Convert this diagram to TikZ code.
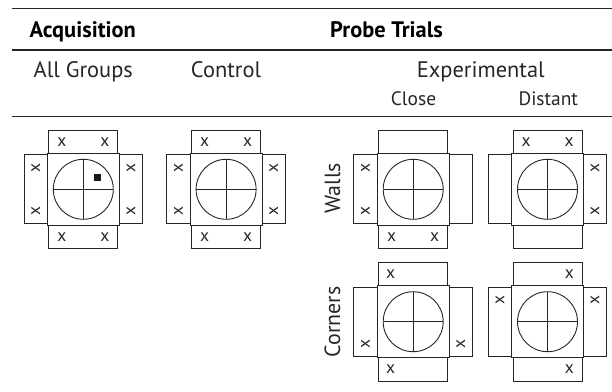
\documentclass[tikz,border=0pt]{standalone}
\usepackage{fontspec}
\setmainfont{PT Sans}
\begin{document}
\begin{tikzpicture}[x=1bp,y=-1bp,
  mline/.style={draw=black!85,line width=0.9bp},
  rule/.style={draw=black!85,line width=1.4bp},
  hd/.style={font=\fontsize{22.5}{26}\selectfont\bfseries,anchor=base,inner sep=0},
  sub/.style={font=\fontsize{22.5}{26}\selectfont,anchor=base,inner sep=0,text=black!85},
  subs/.style={font=\fontsize{19.5}{23}\selectfont,anchor=base,inner sep=0,text=black!85},
  xm/.style={font=\fontsize{17.5}{20}\selectfont,inner sep=0,text=black!85},
  side/.style={font=\fontsize{22}{26}\selectfont,inner sep=0,rotate=90,text=black!85},
  maze/.pic={
    \draw[mline] (-36,-36) rectangle (36,36);
    \draw[mline] (-34.5,-59.3) rectangle (34.5,-36);
    \draw[mline] (-34.5,36) rectangle (34.5,59.3);
    \draw[mline] (-59.3,-34.5) rectangle (-36,34.5);
    \draw[mline] (36,-34.5) rectangle (59.3,34.5);
    \draw[mline] (0,0) circle (30bp);
    \draw[mline] (-30,0) -- (30,0) (0,-30) -- (0,30);
  }]
\useasboundingbox (0,0) rectangle (612,391);
% rules
\coordinate (r1a) at (11.7,8.3);  \coordinate (r1b) at (612,8.3);
\coordinate (r2a) at (11.7,50);   \coordinate (r2b) at (612,50);
\coordinate (r3a) at (11.7,116.3);\coordinate (r3b) at (612,116.3);
\draw[rule] (r1a) -- (r1b);
\draw[mline,line width=1.1bp] (r2a) -- (r2b);
\draw[rule] (r3a) -- (r3b);
% headers
\node[hd] (hacq) at (82.8,37.7) {Acquisition};
\node[hd] (hprobe) at (386.5,37.7) {Probe Trials};
\node[sub] (hall) at (83.3,77.7) {All Groups};
\node[sub] (hctl) at (226,77.7) {Control};
\node[sub] (hexp) at (480.8,77.7) {Experimental};
\node[subs] (hclose) at (413.5,105) {Close};
\node[subs] (hdist) at (548.3,105) {Distant};
\node[side] (lwalls) at (332.5,188.3) {Walls};
\node[side] (lcorn) at (332.5,321.7) {Corners};
% Acquisition maze
\begin{scope}[shift={(83.3,189.3)}]
  \pic {maze};
  \fill[black!90] (10.7,-15) rectangle (17.7,-8);
  \node[xm] (a1) at (-21.5,-47.5) {x};
  \node[xm] (a2) at (21.5,-47.5) {x};
  \node[xm] (a3) at (-21.5,47.5) {x};
  \node[xm] (a4) at (21.5,47.5) {x};
  \node[xm,rotate=90] (a5) at (-47.6,-21.5) {x};
  \node[xm,rotate=90] (a6) at (-47.6,21.5) {x};
  \node[xm,rotate=90] (a7) at (47.6,-21.5) {x};
  \node[xm,rotate=90] (a8) at (47.6,21.5) {x};
\end{scope}
% Control maze
\begin{scope}[shift={(226.1,189.3)}]
  \pic {maze};
  \node[xm] (c1) at (-21.5,-47.5) {x};
  \node[xm] (c2) at (21.5,-47.5) {x};
  \node[xm] (c3) at (-21.5,47.5) {x};
  \node[xm] (c4) at (21.5,47.5) {x};
  \node[xm,rotate=90] (c5) at (-47.6,-21.5) {x};
  \node[xm,rotate=90] (c6) at (-47.6,21.5) {x};
  \node[xm,rotate=90] (c7) at (47.6,-21.5) {x};
  \node[xm,rotate=90] (c8) at (47.6,21.5) {x};
\end{scope}
% Walls close
\begin{scope}[shift={(413.2,189.3)}]
  \pic {maze};
  \node[xm] (wc1) at (-21.5,47.5) {x};
  \node[xm] (wc2) at (21.5,47.5) {x};
  \node[xm,rotate=90] (wc3) at (-47.6,-21.5) {x};
  \node[xm,rotate=90] (wc4) at (-47.6,21.5) {x};
\end{scope}
% Walls distant
\begin{scope}[shift={(547.5,189.3)}]
  \pic {maze};
  \node[xm] (wd1) at (-21.5,-47.5) {x};
  \node[xm] (wd2) at (21.5,-47.5) {x};
  \node[xm,rotate=90] (wd3) at (47.6,-21.5) {x};
  \node[xm,rotate=90] (wd4) at (47.6,21.5) {x};
\end{scope}
% Corners close
\begin{scope}[shift={(413.2,321.7)}]
  \pic {maze};
  \node[xm] (cc1) at (-22.5,-47.5) {x};
  \node[xm] (cc2) at (-22.5,47.5) {x};
  \node[xm,rotate=90] (cc3) at (-47.6,22.5) {x};
  \node[xm,rotate=90] (cc4) at (47.6,22.5) {x};
\end{scope}
% Corners distant
\begin{scope}[shift={(547.5,321.7)}]
  \pic {maze};
  \node[xm] (cd1) at (21.8,-47.5) {x};
  \node[xm] (cd2) at (21.8,47.5) {x};
  \node[xm,rotate=90] (cd3) at (-47.6,-21.7) {x};
  \node[xm,rotate=90] (cd4) at (47.6,-21.7) {x};
\end{scope}
\end{tikzpicture}
\end{document}
